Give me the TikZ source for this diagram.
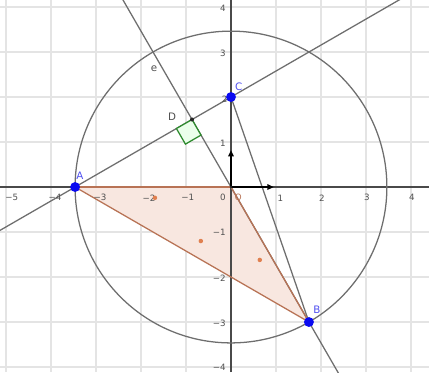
\documentclass[tikz,border=0pt]{standalone}
\usepackage{fontspec}
\setmainfont{DejaVu Sans}
\usetikzlibrary{calc,arrows.meta}
\definecolor{gridc}{HTML}{E4E4E4}
\definecolor{axisc}{HTML}{4A4A4A}
\definecolor{linec}{HTML}{6E6E6E}
\definecolor{tribrown}{HTML}{B87355}
\definecolor{trifill}{HTML}{F8E7E0}
\definecolor{ptblue}{HTML}{0A0AF0}
\definecolor{lblblue}{HTML}{5050F0}
\definecolor{orangec}{HTML}{E08050}
\definecolor{sqgreen}{HTML}{2E8B2E}
\definecolor{labelc}{HTML}{505050}
\tikzset{
  gridline/.style={draw=gridc,line width=0.9pt},
  axisline/.style={draw=axisc,line width=0.8pt},
  geoline/.style={draw=linec,line width=0.8pt},
  triedge/.style={draw=tribrown,line width=0.8pt},
  trifillst/.style={fill=trifill},
  bluept/.style={circle,fill=ptblue,inner sep=0pt,minimum size=0.22cm},
  darkpt/.style={circle,fill=black!85,inner sep=0pt,minimum size=0.09cm},
  orangept/.style={circle,fill=orangec,inner sep=0pt,minimum size=0.1cm},
  ticklabel/.style={font=\fontsize{5.5}{6}\selectfont,text=labelc,inner sep=0pt},
  bluelabel/.style={font=\fontsize{6.5}{7}\selectfont,text=lblblue,inner sep=0pt},
  greylabel/.style={font=\fontsize{6.5}{7}\selectfont,text=labelc,inner sep=0pt},
  vecst/.style={draw=black,line width=0.9pt,-{Triangle[length=4pt,width=3.5pt]}},
  sqst/.style={draw=sqgreen,line width=0.8pt,fill=green!8}
}
\begin{document}
\begin{tikzpicture}[x=1cm,y=1cm]
\useasboundingbox (-5.133,-4.111) rectangle (4.4,4.156);
\fill[white] (-5.133,-4.111) rectangle (4.4,4.156);
\begin{scope}
\clip (-5.133,-4.111) rectangle (4.4,4.156);
% grid
\draw[gridline] (-5.133,-4.111) grid (4.4,4.156);
% points
\coordinate (O) at (0,0);
\coordinate (A) at ({-2*sqrt(3)},0);
\coordinate (B) at ({sqrt(3)},-3);
\coordinate (C) at (0,2);
\coordinate (D) at ({-sqrt(3)/2},1.5);
\coordinate (Xl) at (-5.133,0);
\coordinate (Xr) at (4.4,0);
\coordinate (Yb) at (0,-4.111);
\coordinate (Yt) at (0,4.156);
% triangle fill
\fill[trifillst] (A) -- (O) -- (B) -- cycle;
% axes
\draw[axisline] (Xl) -- (Xr);
\draw[axisline] (Yb) -- (Yt);
% circle
\draw[geoline] (O) circle ({2*sqrt(3)});
% line AC
\coordinate (ACa) at ($(A)!-1.5!(C)$);
\coordinate (ACb) at ($(A)!3!(C)$);
\draw[geoline] (ACa) -- (ACb);
% line OB (through D)
\coordinate (OBa) at ($(O)!-2!(B)$);
\coordinate (OBb) at ($(O)!2!(B)$);
\draw[geoline] (OBa) -- (OBb);
% segment CB
\draw[geoline] (C) -- (B);
% triangle edges
\draw[triedge,line width=1.3pt] (A) -- (O);
\draw[triedge] (O) -- (B) -- (A);
% right angle square
\coordinate (Sa) at ($(D)!0.4cm!(A)$);
\coordinate (So) at ($(D)!0.4cm!(O)$);
\coordinate (Sd) at ($(Sa)+(So)-(D)$);
\draw[sqst] (D) -- (Sa) -- (Sd) -- (So) -- cycle;
% vectors
\coordinate (Ex) at (0.95,0);
\coordinate (Ey) at (0,0.82);
\draw[vecst] (O) -- (Ex);
\draw[vecst] (O) -- (Ey);
\end{scope}
% tick labels
\node[ticklabel] (xm5) at (-4.87,-0.24) {−5};
\node[ticklabel] (xm4) at (-3.91,-0.24) {−4};
\node[ticklabel] (xm3) at (-2.91,-0.24) {−3};
\node[ticklabel] (xm2) at (-1.82,-0.24) {−2};
\node[ticklabel] (xm1) at (-0.96,-0.24) {−1};
\node[ticklabel] (x0) at (-0.18,-0.22) {0};
\node[ticklabel] (x1) at (1.1,-0.26) {1};
\node[ticklabel] (x2) at (2.02,-0.24) {2};
\node[ticklabel] (x3) at (3.02,-0.24) {3};
\node[ticklabel] (x4) at (4.02,-0.24) {4};
\node[ticklabel] (y4) at (-0.18,3.98) {4};
\node[ticklabel] (y3) at (-0.18,2.98) {3};
\node[ticklabel] (y2) at (-0.14,1.96) {2};
\node[ticklabel] (y1) at (-0.18,0.98) {1};
\node[ticklabel] (ym1) at (-0.26,-1.0) {−1};
\node[ticklabel] (ym2) at (-0.26,-2.02) {−2};
\node[ticklabel] (ym3) at (-0.26,-3.02) {−3};
\node[ticklabel] (ym4) at (-0.26,-4.0) {−4};
% points
\node[darkpt] (Pd) at (D) {};
\node[darkpt,minimum size=0.06cm] (Po) at (O) {};
\node[bluept] (Pa) at (A) {};
\node[bluept] (Pb) at (B) {};
\node[bluept] (Pc) at (C) {};
% segment label marks
\node[orangept] (m1) at (-1.69,-0.24) {};
\node[orangept] (m2) at (-0.67,-1.2) {};
\node[orangept] (m3) at (0.64,-1.62) {};
% labels
\node[bluelabel] (lA) at (-3.36,0.25) {A};
\node[bluelabel] (lB) at (1.91,-2.73) {B};
\node[bluelabel] (lC) at (0.17,2.22) {C};
\node[greylabel] (lD) at (-1.31,1.56) {D};
\node[greylabel] (le) at (-1.71,2.62) {e};
\node[ticklabel,text=tribrown] (lO) at (0.16,-0.24) {O};
\end{tikzpicture}
\end{document}
